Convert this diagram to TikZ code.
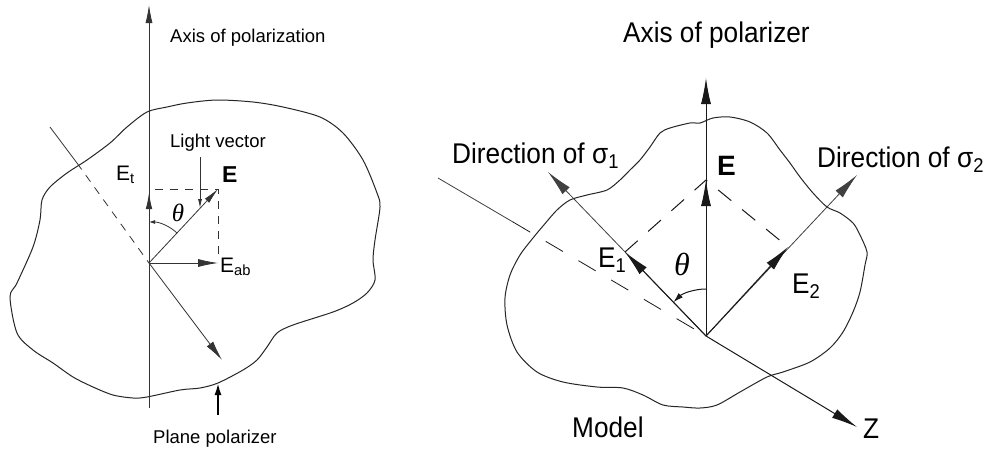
\documentclass[tikz,border=0pt]{standalone}
\usepackage{fontspec}
\setmainfont{Liberation Sans}
\newfontfamily\rfont[FakeStretch=0.92]{Liberation Sans}
\newfontfamily\thfont{Liberation Serif}
\usetikzlibrary{arrows.meta}
\tikzset{
  lline/.style={draw=black!80, line width=0.8pt},
  rline/.style={draw=black!90, line width=1pt},
  ldash/.style={lline, dash pattern=on 8pt off 7pt},
  rdash/.style={rline, dash pattern=on 17pt off 14pt},
  lhead/.style={-{Latex[length=16pt,width=6.5pt]}},
  lbighead/.style={-{Latex[length=20pt,width=8pt]}},
  rhead/.style={-{Latex[length=26pt,width=10pt]}},
  blob/.style={draw=black!85, line width=1pt},
  ltxt/.style={inner sep=0pt, anchor=base west, font=\fontsize{18.5}{20}\selectfont},
  rtxt/.style={inner sep=0pt, anchor=base west, font=\rfont\fontsize{28.5}{30}\selectfont},
  thtxt/.style={inner sep=0pt, font=\thfont\itshape},
}
\begin{document}
\begin{tikzpicture}[x=1pt,y=-1pt]
\useasboundingbox[fill=white] (0,0) rectangle (991,450);

% ================= LEFT FIGURE =================
\draw[blob] plot[smooth cycle, tension=0.5] coordinates {
(127,127) (147,112) (167,107) (187,103) (217,100) (253,102) (283,107)
(320,117) (343,133) (363,160) (377,193) (380,207) (375,240) (373,260)
(375,280) (367,293) (353,303) (333,312) (293,325) (277,333) (267,347)
(257,360) (243,370) (218,383) (200,388) (180,390) (147,397) (133,398)
(113,395) (93,387) (73,377) (53,363) (33,350) (17,333) (10,297)
(17,283) (33,247) (40,220) (42,200) (50,187) (67,173) (87,160) (110,143)};

\coordinate (O1) at (149,263);
\coordinate (ax1top) at (149,5);
\coordinate (ax1bot) at (149,408);
\coordinate (Et1) at (149,193);
\coordinate (Etip1) at (218,189);
\coordinate (dtop1) at (155,189);
\coordinate (dright1) at (218,257);
\coordinate (Eab1) at (218,263);
\coordinate (diagA) at (50,127);
\coordinate (diagB) at (77,163);
\coordinate (diagC) at (222,360);
\coordinate (lvA) at (200,157);
\coordinate (lvB) at (200,208);
\coordinate (ppA) at (218,415);
\coordinate (ppB) at (218,383);
\coordinate (th1a) at (177,233);
\coordinate (th1b) at (149,222);

\draw[lline, -{Latex[length=18pt,width=7pt]}] (ax1bot) -- (ax1top);
\draw[lline, lhead] (O1) -- (Et1);
\draw[ldash] (dtop1) -- (Etip1) -- (dright1);
\draw[lline, -{Latex[length=16pt,width=6pt]}] (O1) -- (Etip1);
\draw[lline, lbighead] (O1) -- (Eab1);
\draw[lline] (diagA) -- (diagB);
\draw[ldash] (diagB) -- (O1);
\draw[lline, lbighead] (O1) -- (diagC);
\draw[lline, -{Latex[length=9pt,width=4pt]}] (lvA) -- (lvB);
\draw[black, line width=2pt, -{Latex[length=12pt,width=7pt]}] (ppA) -- (ppB);
\draw[lline, -{Latex[length=6pt,width=4pt]}] (th1a) .. controls (169.4,225.9) and (159.4,222) .. (th1b);

\node[ltxt] (axl) at (170,42) {Axis of polarization};
\node[ltxt] (lv) at (170,147) {Light vector};
\node[ltxt, font=\fontsize{23}{24}\selectfont\bfseries] (El) at (222,182) {E};
\node[ltxt, font=\fontsize{21}{22}\selectfont] (Etl) at (116,180) {E\textsubscript{t}};
\node[ltxt, font=\fontsize{21}{22}\selectfont] (Eabl) at (220,272) {E\textsubscript{ab}};
\node[thtxt, font=\thfont\itshape\fontsize{25}{26}\selectfont] (thl) at (178,213) {θ};
\node[ltxt] (ppl) at (153,443) {Plane polarizer};

% ================= RIGHT FIGURE =================
\draw[blob] plot[smooth cycle, tension=0.5] coordinates {
(700,123) (713,118) (730,117) (750,122) (767,133) (780,150) (790,163)
(800,177) (813,193) (827,207) (840,213) (853,223) (860,235) (867,252)
(865,265) (860,292) (853,312) (843,332) (830,348) (810,362) (783,372)
(767,377) (740,392) (717,405) (700,408) (683,407) (663,405) (643,395)
(623,388) (597,387) (563,382) (537,372) (517,352) (507,325) (505,298)
(510,275) (520,255) (533,238) (543,226) (557,210) (570,200) (587,195)
(607,190) (620,180) (630,170) (640,160) (650,147) (660,133) (670,128)
(690,123)};

\coordinate (O2) at (706,336);
\coordinate (ax2top) at (706,78);
\coordinate (T2) at (706,180);
\coordinate (s1) at (548,172);
\coordinate (E1t) at (625,252);
\coordinate (s2) at (857,175);
\coordinate (E2t) at (788,247);
\coordinate (zA) at (438,178);
\coordinate (zB) at (513,222);
\coordinate (zC) at (857,427);
\coordinate (th2a) at (706,289);
\coordinate (th2b) at (673.4,302.2);

\draw[rline, rhead] (O2) -- (ax2top);
\draw[rline, rhead] (O2) -- (T2);
\draw[rdash] (E1t) -- (T2) -- (E2t);
\draw[rline, line width=0.8pt, draw=black!75, rhead] (O2) -- (s1);
\draw[rline, rhead] (O2) -- (E1t);
\draw[rline, line width=0.8pt, draw=black!75, rhead] (O2) -- (s2);
\draw[rline, rhead] (O2) -- (E2t);
\draw[rline, line width=0.8pt, draw=black!75] (zA) -- (zB);
\draw[rdash, line width=0.8pt, dash pattern=on 20pt off 18pt] (zB) -- (O2);
\draw[rline, rhead] (O2) -- (zC);
\draw[rline, -{Latex[length=10pt,width=6pt]}] (th2a) .. controls (693.8,289) and (682.2,293.7) .. (th2b);

\node[rtxt] (axr) at (623,42) {Axis of polarizer};
\node[rtxt] (d1) at (452,163) {Direction of σ\textsubscript{1}};
\node[rtxt] (d2) at (817,167) {Direction of σ\textsubscript{2}};
\node[rtxt, font=\fontsize{28}{30}\selectfont\bfseries] (Er) at (717,175) {E};
\node[rtxt] (E1l) at (598,267) {E\textsubscript{1}};
\node[rtxt] (E2l) at (792,293) {E\textsubscript{2}};
\node[thtxt, font=\thfont\itshape\fontsize{32}{34}\selectfont] (thr) at (682,264) {θ};
\node[rtxt] (Zl) at (863,438) {Z};
\node[rtxt] (ml) at (572,437) {Model};
\end{tikzpicture}
\end{document}
